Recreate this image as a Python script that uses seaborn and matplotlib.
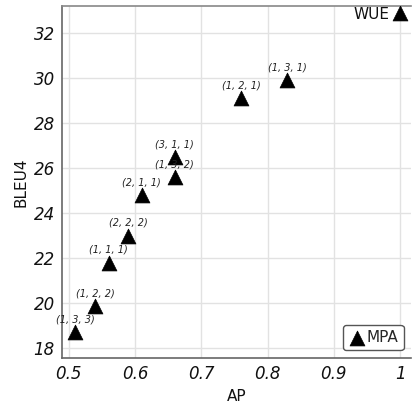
import matplotlib
matplotlib.use("Agg")
import matplotlib.pyplot as plt
import seaborn as sns
import pandas as pd

labels = ["(1, 3, 3)", "(1, 2, 2)", "(1, 1, 1)", "(2, 2, 2)", "(2, 1, 1)",
          "(1, 3, 2)", "(3, 1, 1)", "(1, 2, 1)", "(1, 3, 1)"]
ap = [0.51, 0.54, 0.56, 0.59, 0.61, 0.66, 0.66, 0.76, 0.83]
bleu = [18.7, 19.85, 21.8, 23.0, 24.8, 25.6, 26.5, 29.1, 29.9]
wue_ap = [1.0]
wue_bleu = [32.9]
xticks = [0.5, 0.6, 0.7, 0.8, 0.9, 1.0]
xticklabels = ["0.5", "0.6", "0.7", "0.8", "0.9", "1"]
yticks = [18, 20, 22, 24, 26, 28, 30, 32]

sns.set_theme(style="whitegrid")
plt.rcParams['font.family'] = ['DejaVu Sans']

fig = plt.figure(figsize=(4.12, 4.05), dpi=100)
ax = fig.add_axes([0.150, 0.116, 0.848, 0.869])

df = pd.DataFrame({"AP": ap, "BLEU4": bleu, "label": labels})
sns.scatterplot(data=df, x="AP", y="BLEU4", marker="^", color="black",
                s=115, edgecolor="black", linewidth=0.5, ax=ax, label="MPA", zorder=3)
sns.scatterplot(x=wue_ap, y=wue_bleu, marker="^", color="black", s=115,
                edgecolor="black", linewidth=0.5, ax=ax, legend=False, zorder=3)

for x, y, t in zip(ap, bleu, labels):
    ax.annotate(t, (x, y), xytext=(0, 5.5), textcoords="offset points",
                ha="center", va="bottom", fontsize=7, style="italic", color="#222222")
ax.annotate("WUE", (wue_ap[0], wue_bleu[0]), xytext=(-8, -1), textcoords="offset points",
            ha="right", va="center", fontsize=11, color="#111111")

ax.set_xlim(0.4895, 1.0166)
ax.set_ylim(17.56, 33.2)
ax.set_xticks(xticks)
ax.set_xticklabels(xticklabels)
ax.set_yticks(yticks)
for lab in ax.get_xticklabels() + ax.get_yticklabels():
    lab.set_fontstyle("italic")
    lab.set_fontsize(12)
    lab.set_color("#111111")
ax.set_xlabel("AP", fontsize=11, color="#111111")
ax.set_ylabel("BLEU4", fontsize=11, color="#111111")
ax.tick_params(axis="both", length=0, pad=5)
ax.grid(True, color="#e2e2e2", linewidth=1)

for side in ["left", "bottom"]:
    ax.spines[side].set_visible(True)
    ax.spines[side].set_color("#666666")
    ax.spines[side].set_linewidth(1.2)
ax.spines["top"].set_visible(True)
ax.spines["top"].set_color("#888888")
ax.spines["top"].set_linewidth(1.2)
ax.spines["right"].set_visible(False)

leg = ax.legend(loc="lower right", fontsize=11, handletextpad=0.0, borderpad=0.35,
                frameon=True, fancybox=True, handlelength=1.2, markerscale=1.0)
leg.get_frame().set_edgecolor("#555555")
leg.get_frame().set_linewidth(1.0)
leg.get_frame().set_alpha(1)

fig.savefig("out.png", dpi=100)
